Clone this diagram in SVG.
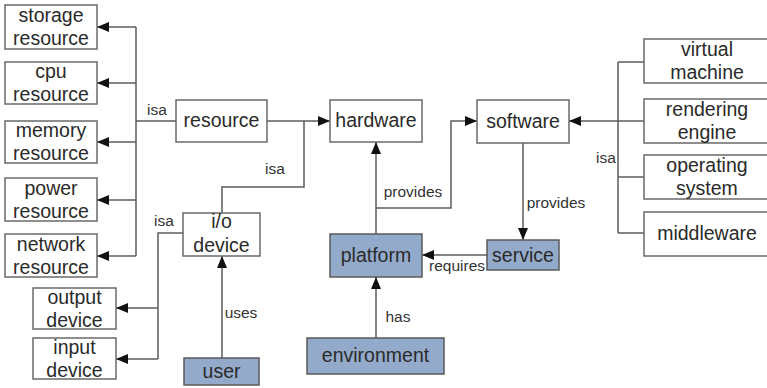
<svg xmlns="http://www.w3.org/2000/svg" width="767" height="388" viewBox="0 0 767 388">
<defs>
<marker id="ah" markerUnits="userSpaceOnUse" markerWidth="13" markerHeight="11" refX="12" refY="5.5" orient="auto">
<path d="M0,0.5 L12,5.5 L0,10.5 Z" fill="#111"/>
</marker>
<style>
.box{fill:#fff;stroke:#6a6a6a;stroke-width:1.5}
.blue{fill:#94aacb;stroke:#5a5a5a;stroke-width:1.5}
.t{font-family:"Liberation Sans",Arial,sans-serif;font-size:19.5px;fill:#2a2a2a;text-anchor:middle}
.l{font-family:"Liberation Sans",Arial,sans-serif;font-size:15.5px;fill:#333;text-anchor:middle}
.c{fill:none;stroke:#5c5c5c;stroke-width:1.5}
.a{marker-end:url(#ah)}
</style>
</defs>
<rect width="767" height="388" fill="#fff"/>
<g id="connectors">
<path class="c" d="M136,27 V256 M136,121 H176"/>
<path class="c a" d="M136,27 H97"/>
<path class="c a" d="M136,83 H97"/>
<path class="c a" d="M136,142 H97"/>
<path class="c a" d="M136,200 H97"/>
<path class="c a" d="M136,256 H97"/>
<path class="c a" d="M267,121 H330"/>
<path class="c" d="M222,213 V187 H304 V121"/>
<path class="c" d="M183,233 H158 V359"/>
<path class="c a" d="M158,308 H116"/>
<path class="c a" d="M158,359 H116"/>
<path class="c a" d="M222,358 V256"/>
<path class="c a" d="M376,234 V142"/>
<path class="c a" d="M376,208 H451 V121 H477"/>
<path class="c a" d="M523,143 V240"/>
<path class="c a" d="M487,255 H422"/>
<path class="c a" d="M376,338 V277"/>
<path class="c" d="M618,62 V233 M618,62 H644 M618,177 H644 M618,233 H644"/>
<path class="c a" d="M644,121 H569"/>
<text class="l" x="157" y="115">isa</text>
<text class="l" x="275" y="174">isa</text>
<text class="l" x="164" y="226">isa</text>
<text class="l" x="241" y="318">uses</text>
<text class="l" x="413" y="197">provides</text>
<text class="l" x="556" y="208">provides</text>
<text class="l" x="457" y="271">requires</text>
<text class="l" x="398" y="322">has</text>
<text class="l" x="606" y="163">isa</text>
</g>
<g id="storage-resource"><rect class="box" x="5" y="5" width="92" height="44"/><text class="t" x="51" y="22">storage</text><text class="t" x="51" y="45">resource</text></g>
<g id="cpu-resource"><rect class="box" x="5" y="62" width="92" height="42"/><text class="t" x="51" y="78">cpu</text><text class="t" x="51" y="101">resource</text></g>
<g id="memory-resource"><rect class="box" x="5" y="121" width="92" height="42"/><text class="t" x="51" y="137">memory</text><text class="t" x="51" y="160">resource</text></g>
<g id="power-resource"><rect class="box" x="5" y="178" width="92" height="43"/><text class="t" x="51" y="195">power</text><text class="t" x="51" y="218">resource</text></g>
<g id="network-resource"><rect class="box" x="5" y="234" width="92" height="43"/><text class="t" x="51" y="251">network</text><text class="t" x="51" y="274">resource</text></g>
<g id="resource"><rect class="box" x="176" y="100" width="91" height="42"/><text class="t" x="221.5" y="127">resource</text></g>
<g id="hardware"><rect class="box" x="330" y="100" width="92" height="42"/><text class="t" x="376" y="127">hardware</text></g>
<g id="software"><rect class="box" x="477" y="100" width="92" height="43"/><text class="t" x="523" y="128">software</text></g>
<g id="io-device"><rect class="box" x="183" y="213" width="77" height="43"/><text class="t" x="221.5" y="228">i/o</text><text class="t" x="221.5" y="252">device</text></g>
<g id="output-device"><rect class="box" x="33" y="288" width="83" height="41"/><text class="t" x="74.5" y="304">output</text><text class="t" x="74.5" y="327">device</text></g>
<g id="input-device"><rect class="box" x="33" y="338" width="83" height="41"/><text class="t" x="74.5" y="354">input</text><text class="t" x="74.5" y="377">device</text></g>
<g id="user"><rect class="blue" x="184" y="358" width="75" height="27"/><text class="t" x="221.5" y="378">user</text></g>
<g id="platform"><rect class="blue" x="330" y="234" width="92" height="43"/><text class="t" x="376" y="262">platform</text></g>
<g id="service"><rect class="blue" x="487" y="240" width="72" height="30"/><text class="t" x="523" y="262">service</text></g>
<g id="environment"><rect class="blue" x="307" y="338" width="137" height="36"/><text class="t" x="375.5" y="362">environment</text></g>
<g id="virtual-machine"><rect class="box" x="644" y="39" width="128" height="44"/><text class="t" x="707" y="56">virtual</text><text class="t" x="707" y="79">machine</text></g>
<g id="rendering-engine"><rect class="box" x="644" y="99" width="128" height="44"/><text class="t" x="707" y="116">rendering</text><text class="t" x="707" y="139">engine</text></g>
<g id="operating-system"><rect class="box" x="644" y="155" width="128" height="44"/><text class="t" x="707" y="172">operating</text><text class="t" x="707" y="195">system</text></g>
<g id="middleware"><rect class="box" x="644" y="212" width="128" height="44"/><text class="t" x="707" y="240">middleware</text></g>
</svg>
